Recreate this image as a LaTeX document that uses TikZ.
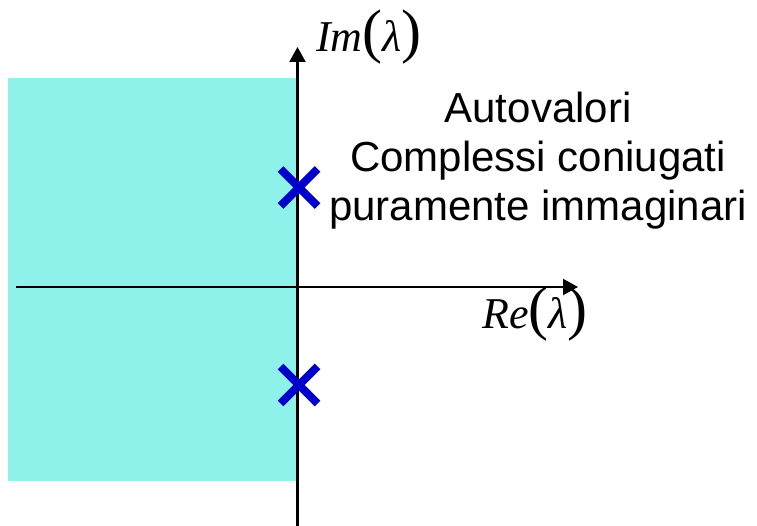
\documentclass[tikz,border=0pt]{standalone}
\usepackage{fontspec}
\setmainfont{Liberation Serif}
\newfontfamily\arialfont{Liberation Sans}
\usetikzlibrary{arrows.meta,shapes.misc}
\definecolor{regioncol}{RGB}{142,242,234}
\definecolor{polecol}{RGB}{0,0,204}
\newcommand{\axlab}[2]{{\fontsize{44bp}{50bp}\selectfont\itshape #1}{\fontsize{60bp}{60bp}\selectfont(}{\fontsize{44bp}{50bp}\selectfont\itshape λ}{\fontsize{60bp}{60bp}\selectfont)}}
\begin{document}
\begin{tikzpicture}[x=1bp,y=-1bp,
  axis/.style={line width=2.2bp,-{Triangle[width=16bp,length=15bp]}},
  pole/.style={cross out,draw=polecol,line width=8bp,minimum size=37bp,inner sep=0pt,outer sep=0pt},
  desc/.style={font=\arialfont\fontsize{42bp}{48bp}\selectfont,anchor=base,inner sep=0pt},
  axlabel/.style={anchor=base west,inner sep=0pt}]
\useasboundingbox (0,0) rectangle (757,526);
\fill[regioncol] (8,78) rectangle (297,481);
\coordinate (vb) at (297.5,526);
\coordinate (vt) at (297.5,47);
\coordinate (hl) at (16,287);
\coordinate (hr) at (578,287);
\draw[axis] (vb) -- (vt);
\draw[axis] (hl) -- (hr);
\node[pole] (p1) at (299,187.5) {};
\node[pole] (p2) at (299,385) {};
\node[axlabel] (im) at (316,52) {\axlab{Im}{}};
\node[axlabel] (re) at (482,328) {\axlab{Re}{}};
\node[desc] (t1) at (538,123) {Autovalori};
\node[desc] (t2) at (538,172) {Complessi coniugati};
\node[desc] (t3) at (538,221) {puramente immaginari};
\end{tikzpicture}
\end{document}
